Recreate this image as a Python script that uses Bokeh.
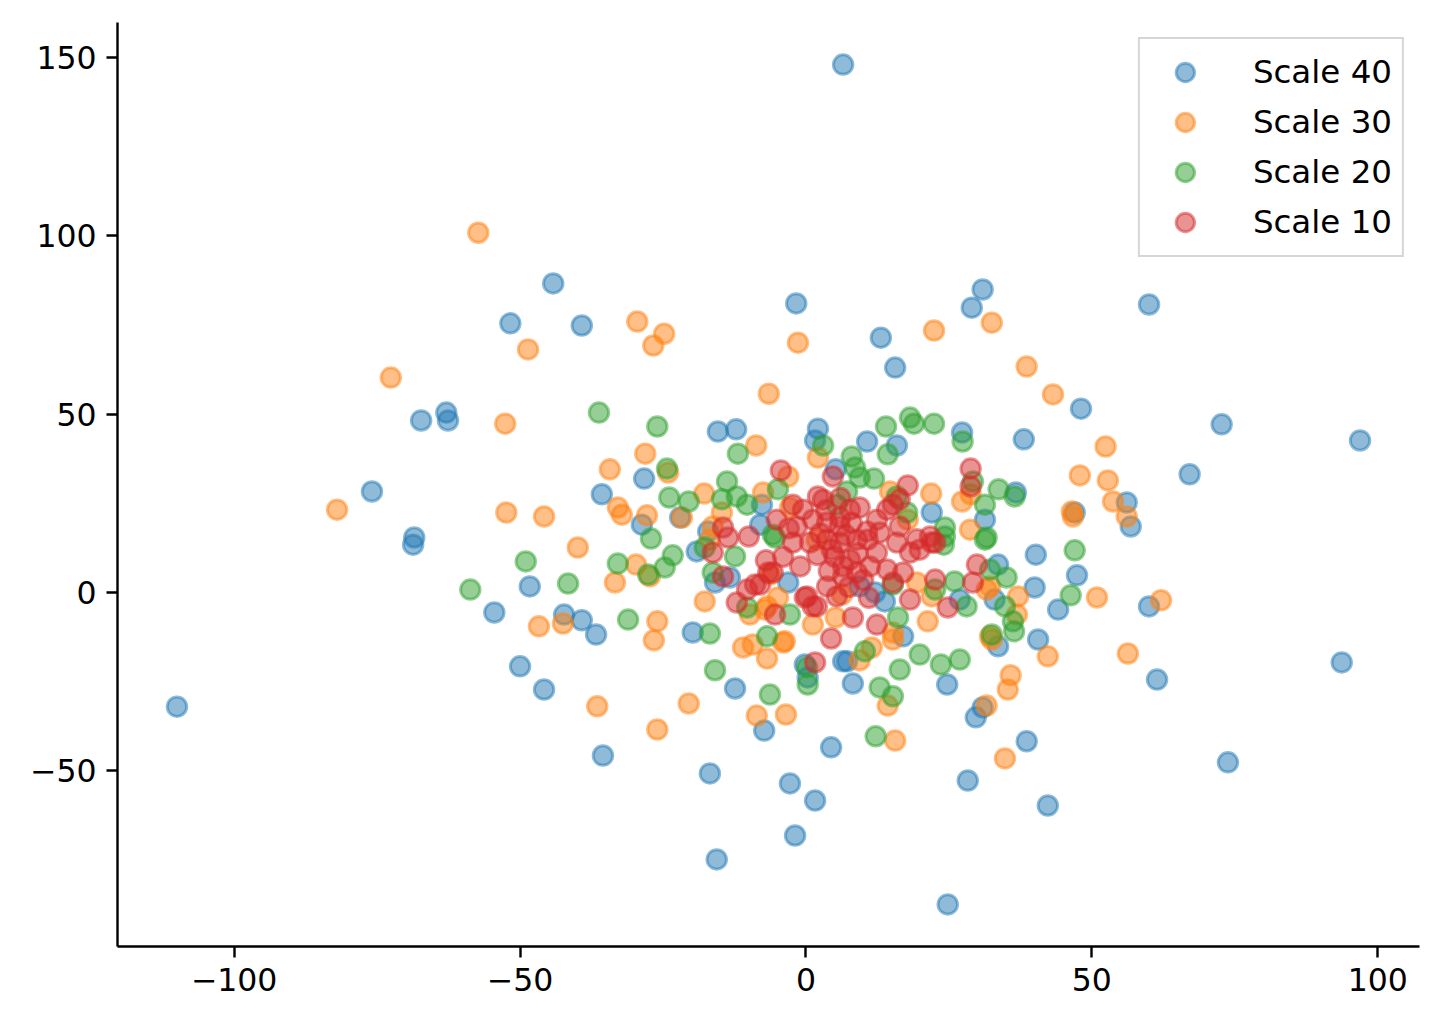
from bokeh.plotting import figure
from bokeh.models import FixedTicker, Legend, LegendItem, Range1d
from bokeh.embed import file_html
from bokeh.resources import INLINE

labels = ["Scale 40", "Scale 30", "Scale 20", "Scale 10"]
colors = ["#1f77b4", "#ff7f0e", "#2ca02c", "#d62728"]

s40 = [(6.5,147.9), (-44.2,86.6), (-51.7,75.4), (-39.2,74.8), (-1.7,81.0), (30.9,84.9), (29.0,79.8),
       (60.0,80.7), (13.1,71.4), (15.6,63.0), (-62.9,50.4), (-67.3,48.2), (-62.6,48.2), (-75.9,28.3),
       (-68.5,15.4), (-68.7,13.4), (-110.0,-32.0), (-54.5,-5.6), (-48.3,1.7), (-50.0,-20.7), (-45.8,-27.2),
       (-42.3,-6.2), (-39.2,-7.8), (-36.7,-11.8), (-35.7,27.5), (-28.3,31.9), (-35.5,-45.7), (-15.4,45.1),
       (-12.2,45.7), (2.1,45.9), (1.6,42.6), (10.7,42.3), (15.9,41.2), (48.1,51.5), (38.1,42.9), (72.7,47.1),
       (96.9,42.6), (67.1,33.1), (56.1,25.2), (56.8,18.5), (36.7,28.0), (40.2,10.6), (40.0,1.4), (44.1,-4.8),
       (60.0,-3.9), (61.4,-24.4), (93.7,-19.6), (73.8,-47.6), (42.3,-59.7), (38.6,-41.7), (40.6,-13.2),
       (29.7,-35.0), (30.9,-32.2), (28.3,-52.7), (24.8,-87.4), (24.7,-25.8), (26.9,-2.0), (47.4,4.8),
       (47.0,22.4), (31.3,20.4), (33.6,7.8), (33.0,-2.0), (33.6,-15.1), (-12.4,-26.9), (-16.8,-50.7),
       (-2.8,-53.5), (1.6,-58.3), (-1.9,-68.1), (-15.6,-74.8), (4.4,-43.4), (-7.3,-38.7), (8.2,-25.5),
       (6.5,-19.3), (7.2,-19.3), (-0.2,-20.2), (0.3,-23.8), (-19.8,-11.2), (17.0,-12.3), (-28.7,19.0),
       (-22.0,21.0), (-17.1,17.1), (-19.1,11.5), (-15.9,2.8), (-13.3,4.2), (-7.7,24.6), (-8.0,19.0),
       (27.3,44.8), (5.2,34.5), (22.0,22.4), (-3.1,2.8), (9.4,1.7), (12.1,0.0), (13.8,-2.5)]

s30 = [(-57.3,100.8), (-72.6,60.2), (-48.6,68.1), (-29.5,75.9), (-24.8,72.5), (-26.7,69.2), (-1.4,70.0),
       (22.4,73.4), (32.5,75.6), (-6.5,55.7), (38.6,63.3), (43.2,55.5), (52.4,40.9), (47.9,32.8), (52.8,31.4),
       (53.7,25.5), (56.1,21.3), (46.5,22.7), (46.7,21.3), (56.3,-17.1), (50.9,-1.4), (62.1,-2.2), (42.3,-17.9),
       (37.1,-1.1), (36.9,-6.2), (35.8,-23.2), (35.3,-27.2), (34.8,-46.5), (31.6,-31.7), (14.3,-31.7),
       (15.6,-41.5), (-82.0,23.2), (-52.6,47.3), (-52.4,22.4), (-45.8,21.3), (-46.7,-9.5), (-42.5,-8.7),
       (-39.9,12.6), (-36.5,-31.9), (-34.3,34.5), (-32.9,23.8), (-32.2,21.8), (-33.4,2.8), (-29.7,7.8),
       (-28.1,38.9), (-27.8,21.6), (-27.3,4.5), (-26.0,-8.1), (-26.6,-13.4), (-26.0,-38.4), (-24.1,33.6),
       (-21.7,21.0), (-20.5,-31.1), (-17.8,27.7), (-17.7,-2.5), (-8.7,41.2), (-8.6,-34.5), (-3.5,-34.2),
       (-7.5,28.0), (2.1,37.8), (-3.1,32.5), (-14.7,22.4), (-16.3,18.5), (-16.8,14.8), (-9.8,-6.2),
       (-7.2,-4.8), (-11.0,-15.4), (-9.3,-14.6), (-6.8,-18.5), (-4.0,-14.0), (9.4,-19.0), (11.5,-15.4),
       (15.2,-13.2), (32.5,-13.2), (32.2,1.7), (14.7,28.3), (21.9,27.7), (27.3,25.5), (28.8,27.5),
       (17.8,20.4), (-2.8,23.8), (28.7,17.6), (-6.8,-3.9), (-6.3,5.0), (-3.7,-13.7), (1.2,-9.0), (5.2,-7.0),
       (6.3,-0.6), (15.2,-11.2), (19.4,2.8), (21.3,-8.1), (22.0,-1.1), (31.6,0.8), (32.2,-12.3), (1.9,14.8),
       (-4.9,-1.4)]

s20 = [(-58.7,0.8), (-49.0,8.7), (-41.6,2.5), (-36.2,50.4), (-32.9,8.1), (-31.1,-7.6), (-27.6,5.0),
       (-27.1,15.1), (-26.0,46.5), (-24.3,34.7), (-23.9,26.6), (-23.3,10.4), (-20.5,25.5), (-24.7,7.0),
       (-17.7,12.6), (-12.4,10.1), (-16.3,5.6), (-10.3,-4.2), (-16.8,-11.5), (-15.9,-21.8), (-13.8,31.1),
       (-11.9,38.9), (-14.7,26.1), (-12.1,26.9), (-10.3,24.6), (-6.3,-28.6), (-6.8,-12.3), (-4.9,28.9),
       (3.0,41.2), (8.0,38.1), (8.6,35.0), (9.4,32.2), (11.9,31.9), (7.2,28.3), (14.0,46.5), (14.3,38.7),
       (18.2,49.0), (18.9,47.3), (22.4,47.3), (27.4,42.3), (29.2,31.1), (31.3,24.6), (33.7,28.9), (36.5,26.9),
       (35.1,4.2), (31.6,15.4), (32.2,6.4), (34.8,-3.9), (36.2,-8.1), (36.4,-10.9), (32.5,-11.8), (24.3,18.2),
       (24.1,13.4), (26.9,-18.8), (23.6,-20.2), (19.9,-17.4), (16.4,-21.6), (12.9,-26.6), (15.2,-29.1),
       (12.2,-40.3), (10.3,-16.5), (0.3,-25.8), (0.2,-21.0), (46.3,-0.8), (47.0,11.8), (15.9,26.9),
       (17.7,22.4), (-5.8,16.2), (5.4,24.6), (-5.4,15.4), (-2.8,-6.2), (16.1,-7.0), (24.3,15.7), (26.0,3.1),
       (28.1,-3.9), (22.6,0.8), (15.2,2.2), (31.3,14.8)]

s10 = [(28.8,34.7), (28.8,29.7), (29.9,7.8), (29.2,2.8), (24.8,-4.2), (22.6,3.6), (22.6,14.0), (17.8,30.0),
       (18.2,-2.0), (12.4,-9.0), (8.2,-7.0), (4.4,-12.9), (1.6,-19.6), (-14.5,4.5), (-14.5,18.2), (-13.6,15.4),
       (-10.0,15.7), (-16.3,11.2), (-12.1,-2.8), (-10.3,0.8), (-8.9,2.2), (-6.6,5.6), (-5.4,-6.2), (-4.4,34.2),
       (4.7,32.5), (-2.3,24.6), (-0.5,23.2), (2.1,26.9), (3.0,26.0), (7.7,23.2), (9.4,23.8), (14.2,23.2),
       (15.2,24.6), (16.4,26.1), (-5.1,20.4), (-1.6,18.5), (1.2,20.4), (3.7,19.6), (5.9,18.5), (12.4,20.4),
       (12.9,16.8), (16.4,18.5), (19.4,14.9), (21.7,15.7), (10.7,17.1), (-8.0,2.2), (-5.8,5.6), (-4.0,10.0),
       (-2.3,14.0), (-1.0,7.3), (0.2,-1.1), (1.9,-3.9), (0.7,14.0), (3.7,14.8), (5.9,14.0), (7.7,9.2),
       (6.5,4.5), (3.7,1.7), (5.4,-1.1), (6.5,7.3), (8.9,5.6), (11.2,7.3), (14.2,6.4), (17.0,5.6), (15.2,2.8),
       (12.4,11.2), (15.9,14.0), (18.2,11.2), (19.9,12.0), (22.0,14.0), (10.8,14.8), (8.9,14.8), (-0.2,-1.4),
       (1.2,-3.9), (2.5,16.5), (4.5,12.0), (7.0,16.0), (5.0,10.0), (2.0,10.5), (9.0,11.0), (-3.0,18.0),
       (6.0,21.0), (4.0,6.0), (7.5,1.5), (10.0,3.5), (11.0,-1.5), (-7.0,9.0), (8.0,19.5), (3.5,23.0),
       (6.0,26.5)]

series = [s40, s30, s20, s10]

x_ticks = [-100, -50, 0, 50, 100]
y_ticks = [-50, 0, 50, 100, 150]
x_limits = (-120.4, 107.3)
y_limits = (-99.2, 159.7)

FONT = "DejaVu Sans"

p = figure(width=1435, height=1020, output_backend="svg", toolbar_location=None,
           x_range=Range1d(*x_limits), y_range=Range1d(*y_limits),
           min_border_left=117, min_border_right=16, min_border_top=22, min_border_bottom=74)
p.outline_line_color = None
p.xgrid.grid_line_color = None
p.ygrid.grid_line_color = None
p.background_fill_color = "white"

items = []
for pts, lab, col in zip(series, labels, colors):
    xs = [a for a, b in pts]
    ys = [b for a, b in pts]
    r = p.scatter(xs, ys, marker="circle", size=19.5, fill_color=col, line_color=col,
                  fill_alpha=0.5, line_alpha=0.5, line_width=3)
    items.append(LegendItem(label=lab, renderers=[r]))

def minus(v):
    return str(v).replace("-", "\u2212")

for ax, ticks in ((p.xaxis[0], x_ticks), (p.yaxis[0], y_ticks)):
    ax.ticker = FixedTicker(ticks=ticks)
    ax.major_label_overrides = {t: minus(t) for t in ticks}
    ax.minor_tick_line_color = None
    ax.major_tick_in = 0
    ax.major_tick_out = 11
    ax.major_tick_line_width = 2.4
    ax.axis_line_width = 2.4
    ax.axis_line_color = "black"
    ax.major_tick_line_color = "black"
    ax.major_label_text_font = FONT
    ax.major_label_text_font_size = "31.5px"
    ax.major_label_text_color = "black"
    ax.major_label_standoff = 10

legend = Legend(items=items, location="top_right", margin=15, padding=10, spacing=4,
                glyph_width=70, glyph_height=46, label_height=46, label_standoff=33,
                label_text_font=FONT, label_text_font_size="32.5px", label_text_color="black",
                border_line_color="#cccccc", border_line_width=2.5, border_line_alpha=0.8,
                background_fill_color="white", background_fill_alpha=0.8)
p.add_layout(legend)

open("out.html", "w").write(file_html(p, INLINE))
